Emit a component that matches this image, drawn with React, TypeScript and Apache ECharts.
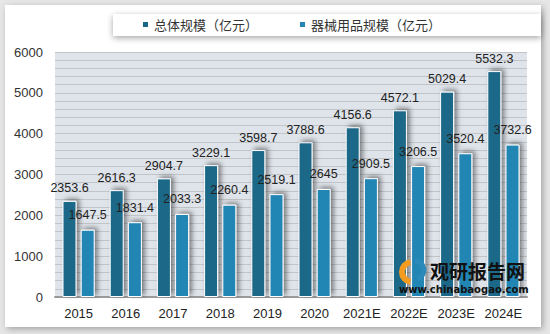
import React, { useEffect, useRef } from "react";
import * as echarts from "echarts";

const categories = ["2015", "2016", "2017", "2018", "2019", "2020", "2021E", "2022E", "2023E", "2024E"];
const totalScale = [2353.6, 2616.3, 2904.7, 3229.1, 3598.7, 3788.6, 4156.6, 4572.1, 5029.4, 5532.3];
const deviceScale = [1647.5, 1831.4, 2033.3, 2260.4, 2519.1, 2645, 2909.5, 3206.5, 3520.4, 3732.6];
const seriesNames = ["总体规模（亿元）", "器械用品规模（亿元）"];

export default function App() {
  const ref = useRef<HTMLDivElement>(null);
  useEffect(() => {
    if (!ref.current) return;
    const chart = echarts.init(ref.current, undefined, { renderer: "svg" });
    const font = "'Liberation Sans', Arial, sans-serif";
    const barStyle = (color: string) => ({
      color,
      borderColor: "#ffffff",
      borderWidth: 1,
      shadowColor: "rgba(0,0,0,0.45)",
      shadowBlur: 5,
      shadowOffsetX: 3,
      shadowOffsetY: -2,
    });
    chart.setOption({
      animation: false,
      backgroundColor: "#e6e6e6",
      textStyle: { fontFamily: font },
      graphic: [
        {
          type: "rect",
          z: -10,
          silent: true,
          shape: { x: 5, y: 5, width: 536, height: 322 },
          style: { fill: "#ffffff", shadowColor: "rgba(0,0,0,0.3)", shadowBlur: 6, shadowOffsetX: 2, shadowOffsetY: 2 },
        },
        {
          type: "rect",
          z: -9,
          silent: true,
          shape: { x: 113, y: 14, width: 428, height: 22 },
          style: { fill: "#ffffff", shadowColor: "rgba(0,0,0,0.35)", shadowBlur: 6, shadowOffsetX: 0, shadowOffsetY: 2 },
        },
        {
          type: "arc",
          z: 100,
          silent: true,
          shape: { cx: 412, cy: 272, r: 10, startAngle: Math.PI * 0.55, endAngle: Math.PI * 1.45 },
          style: { stroke: "#f39c1f", lineWidth: 6, fill: "none" },
        },
        {
          type: "arc",
          z: 100,
          silent: true,
          shape: { cx: 415, cy: 270, r: 9, startAngle: Math.PI * 1.5, endAngle: Math.PI * 2.4 },
          style: { stroke: "#2a8bbb", lineWidth: 5, fill: "none" },
        },
        {
          type: "text",
          z: 100,
          silent: true,
          x: 430,
          y: 261,
          style: { text: "观研报告网", fill: "#111", font: "bold 19px 'Noto Sans CJK SC', sans-serif" },
        },
        {
          type: "text",
          z: 100,
          silent: true,
          x: 399,
          y: 284,
          style: { text: "www.chinabaogao.com", fill: "#111", font: "bold 10px 'DejaVu Sans', sans-serif" },
        },
      ],
      legend: {
        top: 13,
        left: 136,
        itemWidth: 7,
        itemHeight: 7,
        itemGap: 40,
        icon: "rect",
        textStyle: { fontSize: 13, color: "#333", fontFamily: "'Noto Sans CJK SC', sans-serif" },
        data: seriesNames,
      },
      grid: { left: 55, right: 23, top: 52, bottom: 37, show: true, backgroundColor: "#dfe4ea", borderWidth: 0 },
      xAxis: {
        type: "category",
        data: categories,
        axisTick: { show: false },
        splitLine: { show: false },
        axisLine: { show: true, lineStyle: { color: "#9a9a9a", width: 2 } },
        axisLabel: { fontSize: 13, color: "#222", margin: 10, interval: 0 },
      },
      yAxis: {
        type: "value",
        min: 0,
        max: 6000,
        interval: 200,
        axisLine: { show: false },
        axisTick: { show: false },
        axisLabel: {
          fontSize: 13,
          color: "#333",
          margin: 12,
          formatter: (v: number) => (v % 1000 === 0 ? String(v) : ""),
        },
        splitLine: { show: true, lineStyle: { color: "#c2c5c8", width: 1 } },
      },
      series: [
        {
          name: seriesNames[0],
          type: "bar",
          data: totalScale,
          barWidth: 14,
          barGap: "30%",
          itemStyle: barStyle("#1b6788"),
          label: { show: true, position: "top", distance: 6, fontSize: 12.5, color: "#222" },
        },
        {
          name: seriesNames[1],
          type: "bar",
          data: deviceScale,
          barWidth: 14,
          itemStyle: barStyle("#2386b5"),
          label: { show: true, position: "top", distance: 8, fontSize: 12.5, color: "#222" },
        },
      ],
    });
    return () => chart.dispose();
  }, []);
  return <div ref={ref} style={{ position: "fixed", left: 0, top: 0, width: 550, height: 334 }} />;
}
